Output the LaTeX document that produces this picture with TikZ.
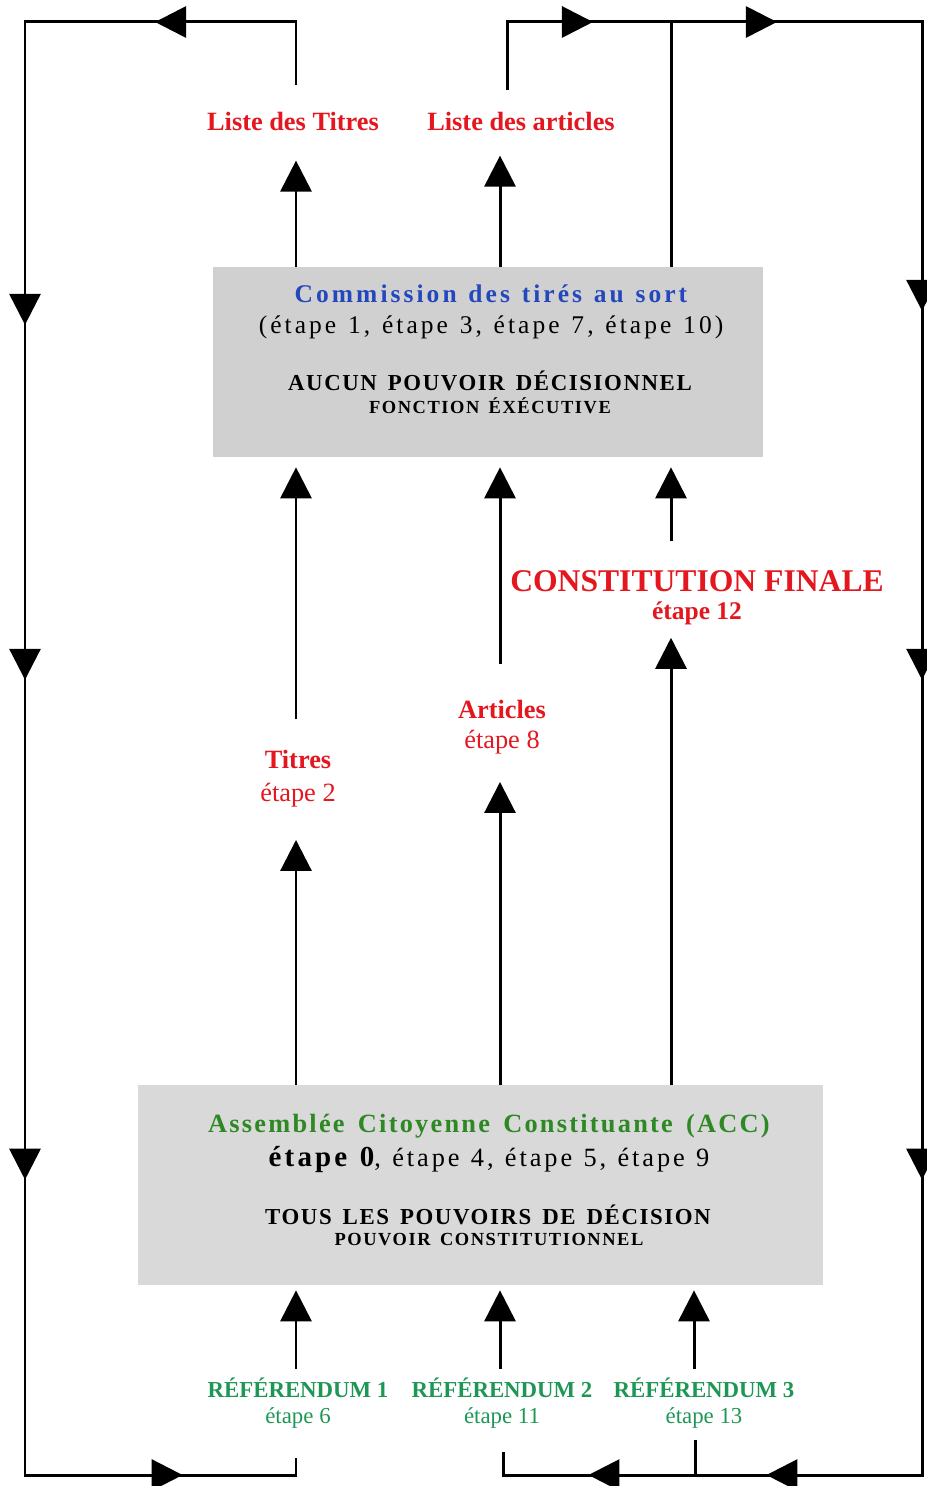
\documentclass[tikz,border=0pt]{standalone}
\usepackage{fontspec}
\setmainfont{Liberation Serif}
\newfontfamily\spacedxiii[LetterSpace=12,WordSpace=1.25]{Liberation Serif}
\newfontfamily\spacedxii[LetterSpace=11,WordSpace=1.2]{Liberation Serif}
\newfontfamily\spacedix[LetterSpace=8.5,WordSpace=1.5]{Liberation Serif}
\newfontfamily\spacedviii[LetterSpace=7,WordSpace=1.5]{Liberation Serif}
\usetikzlibrary{arrows.meta,decorations.markings}
\definecolor{lblred}{RGB}{228,22,30}
\definecolor{comblue}{RGB}{35,72,190}
\definecolor{accgreen}{RGB}{46,136,36}
\definecolor{refgreen}{RGB}{30,150,85}
\definecolor{boxgray}{RGB}{208,208,208}
\definecolor{boxgraylt}{RGB}{217,217,217}

\tikzset{
  bigtip/.tip={Triangle[length=0.62cm,width=0.62cm]},
  flow/.style={line width=1.7pt, -bigtip},
  loopline/.style={line width=1.7pt},
  tipat/.style={postaction={decorate,decoration={markings,mark=at position #1 with {\arrow{bigtip}}}}},
  box/.style={rectangle, inner sep=0pt},
  lbl/.style={inner sep=0pt, anchor=base, align=center},
  redtitle/.style={lbl, text=lblred, font=\bfseries\fontsize{15}{18}\selectfont},
  redstep/.style={lbl, text=lblred, font=\fontsize{15}{18}\selectfont},
  reftitle/.style={lbl, text=refgreen, font=\bfseries\fontsize{13}{15}\selectfont},
  refstep/.style={lbl, text=refgreen, font=\fontsize{13}{15}\selectfont},
}

\begin{document}
\begin{tikzpicture}[x=0.02cm, y=-0.02cm]
  \useasboundingbox (0,0) rectangle (926,1486);

  % Columns and corners
  \coordinate (colA) at (296,0);
  \coordinate (colB) at (500,0);
  \coordinate (colC) at (671,0);
  \coordinate (colD) at (694,0);
  \coordinate (nw) at (25,22);
  \coordinate (sw) at (25,1475);
  \coordinate (ne) at (922,22);
  \coordinate (se) at (922,1475);
  \coordinate (ltup) at (296,85);
  \coordinate (laup) at (507,90);
  \coordinate (r1dn) at (296,1458);
  \coordinate (r2dn) at (503,1452);
  \coordinate (r3dn) at (695,1440);

  % Boxes
  \node[box, fill=boxgray, minimum width=11cm, minimum height=3.8cm] (com) at (488,362) {};
  \node[lbl, text=comblue, font=\spacedxiii\bfseries\fontsize{14.5}{17}\selectfont] (comtitle) at (491,303) {Commission des tirés au sort};
  \node[lbl, font=\spacedxiii\fontsize{14.5}{17}\selectfont] (comsteps) at (491,334) {(étape 1, étape 3, étape 7, étape 10)};
  \node[lbl, font=\spacedviii\bfseries\fontsize{13}{15}\selectfont] (compow) at (490,391) {AUCUN POUVOIR DÉCISIONNEL};
  \node[lbl, font=\spacedix\bfseries\fontsize{10.5}{12}\selectfont] (comfct) at (490,414) {FONCTION ÉXÉCUTIVE};

  \node[box, fill=boxgraylt, minimum width=13.7cm, minimum height=4cm] (acc) at (480.5,1185) {};
  \node[lbl, text=accgreen, font=\spacedix\bfseries\fontsize{15}{18}\selectfont] (acctitle) at (489,1132) {Assemblée Citoyenne Constituante (ACC)};
  \node[lbl, font=\spacedxii\fontsize{15}{18}\selectfont] (accsteps) at (489,1166) {{\bfseries\fontsize{16.5}{18}\selectfont étape 0}, étape 4, étape 5, étape 9};
  \node[lbl, font=\spacedviii\bfseries\fontsize{13}{15}\selectfont] (accpow) at (488,1224) {TOUS LES POUVOIRS DE DÉCISION};
  \node[lbl, font=\spacedix\bfseries\fontsize{10.5}{12}\selectfont] (accfct) at (489,1245) {POUVOIR CONSTITUTIONNEL};

  % Labels
  \node[redtitle] (lt) at (293,131) {Liste des Titres};
  \node[redtitle] (la) at (521,131) {Liste des articles};
  \node[redtitle] (titres) at (298,768) {Titres};
  \node[redstep] (titresstep) at (298,801) {étape 2};
  \node[redtitle] (articles) at (502,718) {Articles};
  \node[redstep] (articlesstep) at (502,748) {étape 8};
  \node[lbl, text=lblred, font=\bfseries\fontsize{18}{20}\selectfont] (cfin) at (697,591) {CONSTITUTION FINALE};
  \node[lbl, text=lblred, font=\bfseries\fontsize{14.5}{17}\selectfont] (cfinstep) at (697,619) {étape 12};
  \node[reftitle] (ref1) at (298,1397) {RÉFÉRENDUM 1};
  \node[refstep] (ref1step) at (298,1423) {étape 6};
  \node[reftitle] (ref2) at (502,1397) {RÉFÉRENDUM 2};
  \node[refstep] (ref2step) at (502,1423) {étape 11};
  \node[reftitle] (ref3) at (704,1397) {RÉFÉRENDUM 3};
  \node[refstep] (ref3step) at (704,1423) {étape 13};

  % Connect the nodes
  \draw[flow, shorten >=0.58cm] (com.north -| colA) -- (lt.south -| colA);
  \draw[flow, shorten >=0.48cm] (com.north -| colB) -- (la.south -| colB);
  \draw[flow, shorten >=0.66cm] (acc.north -| colA) -- (titresstep.south -| colA);
  \draw[flow, shorten <=0.6cm, shorten >=0.2cm] (titres.north -| colA) -- (com.south -| colA);
  \draw[flow, shorten >=0.56cm] (acc.north -| colB) -- (articlesstep.south -| colB);
  \draw[flow, shorten <=0.7cm, shorten >=0.2cm] (articles.north -| colB) -- (com.south -| colB);
  \draw[flow, shorten >=0.26cm] (acc.north -| colC) -- (cfinstep.south -| colC);
  \draw[flow, shorten <=0.58cm, shorten >=0.2cm] (cfin.north -| colC) -- (com.south -| colC);
  \draw[flow, shorten <=0.16cm, shorten >=0.1cm] (ref1.north -| colA) -- (acc.south -| colA);
  \draw[flow, shorten <=0.16cm, shorten >=0.1cm] (ref2.north -| colB) -- (acc.south -| colB);
  \draw[flow, shorten <=0.16cm, shorten >=0.1cm] (ref3.north -| colD) -- (acc.south -| colD);

  % Loops
  \draw[loopline, tipat=4.08cm, tipat=12.74cm, tipat=19.84cm, tipat=29.84cm, tipat=38.9cm]
    (ltup) -- (ltup |- nw) -- (nw) -- (sw) -- (sw -| r1dn) -- (r1dn);
  \draw[loopline, tipat=3.08cm, tipat=6.76cm, tipat=15.44cm, tipat=22.82cm, tipat=32.82cm, tipat=41.84cm, tipat=45.4cm]
    (laup) -- (laup |- ne) -- (ne) -- (se) -- (se -| r2dn) -- (r2dn);
  \draw[loopline] (com.north -| colC) -- (colC |- ne);
  \draw[loopline] (r3dn) -- (r3dn |- se);
\end{tikzpicture}
\end{document}
